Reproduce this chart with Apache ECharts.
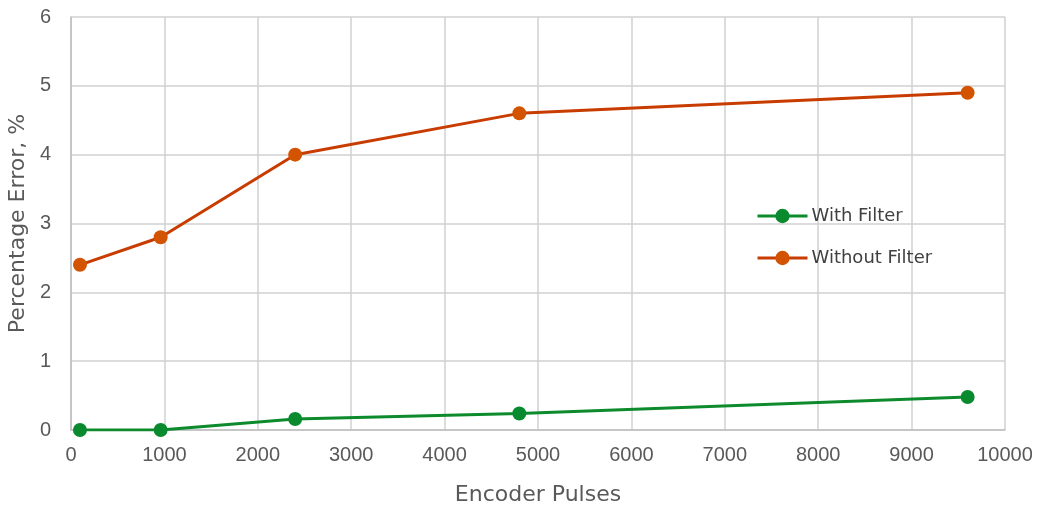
<!DOCTYPE html>
<html><head><meta charset="utf-8">
<script src="https://cdn.jsdelivr.net/npm/echarts@6/dist/echarts.min.js"></script>
<style>html,body{margin:0;padding:0;background:#fff}#c{width:1040px;height:507px}</style>
</head><body><div id="c"></div>
<script>
const pulses = [96, 960, 2400, 4800, 9600];
const withFilter = [0, 0, 0.16, 0.24, 0.48];
const withoutFilter = [2.4, 2.8, 4.0, 4.6, 4.9];
const seriesNames = ['With Filter', 'Without Filter'];
const xName = 'Encoder Pulses';
const yName = 'Percentage Error, %';

const nameFont = '"DejaVu Sans", sans-serif';
const tickFont = '"Liberation Sans", Arial, sans-serif';
const chart = echarts.init(document.getElementById('c'));
chart.setOption({
  animation: false,
  grid: {left: 71, right: 35, top: 17, bottom: 77, outerBoundsMode: 'none'},
  legend: {
    orient: 'vertical', left: 751, top: 202, itemGap: 24,
    itemWidth: 50, itemHeight: 18,
    lineStyle: {width: 3},
    textStyle: {fontFamily: nameFont, fontSize: 18, color: '#404040', padding: [0,0,0,-1]},
    data: seriesNames
  },
  xAxis: {
    type: 'value', min: 0, max: 10000, interval: 1000,
    name: xName, nameLocation: 'middle', nameGap: 54,
    nameTextStyle: {fontFamily: nameFont, fontSize: 22, color: '#595959'},
    axisLine: {show: true, lineStyle: {color: '#BFBFBF', width: 1.5}},
    axisTick: {show: false},
    axisLabel: {fontFamily: tickFont, fontSize: 20, color: '#595959', margin: 15,
                formatter: v => String(v)},
    splitLine: {show: true, lineStyle: {color: '#D0D0D0', width: 1.5}}
  },
  yAxis: {
    type: 'value', min: 0, max: 6, interval: 1,
    name: yName, nameLocation: 'middle', nameGap: 42, nameRotate: 90,
    nameTextStyle: {fontFamily: nameFont, fontSize: 22, color: '#595959'},
    axisLine: {show: true, lineStyle: {color: '#BFBFBF', width: 1.5}},
    axisTick: {show: false},
    axisLabel: {fontFamily: tickFont, fontSize: 20, color: '#595959', margin: 20},
    splitLine: {show: true, lineStyle: {color: '#D0D0D0', width: 1.5}}
  },
  series: [
    {name: seriesNames[0], type: 'line', data: pulses.map((p,i)=>[p, withFilter[i]]),
     symbol: 'circle', symbolSize: 14,
     lineStyle: {color: '#0C8A2C', width: 3},
     itemStyle: {color: '#0A8A2E'}},
    {name: seriesNames[1], type: 'line', data: pulses.map((p,i)=>[p, withoutFilter[i]]),
     symbol: 'circle', symbolSize: 14,
     lineStyle: {color: '#C83C00', width: 3},
     itemStyle: {color: '#D35400'}}
  ]
});
</script></body></html>
